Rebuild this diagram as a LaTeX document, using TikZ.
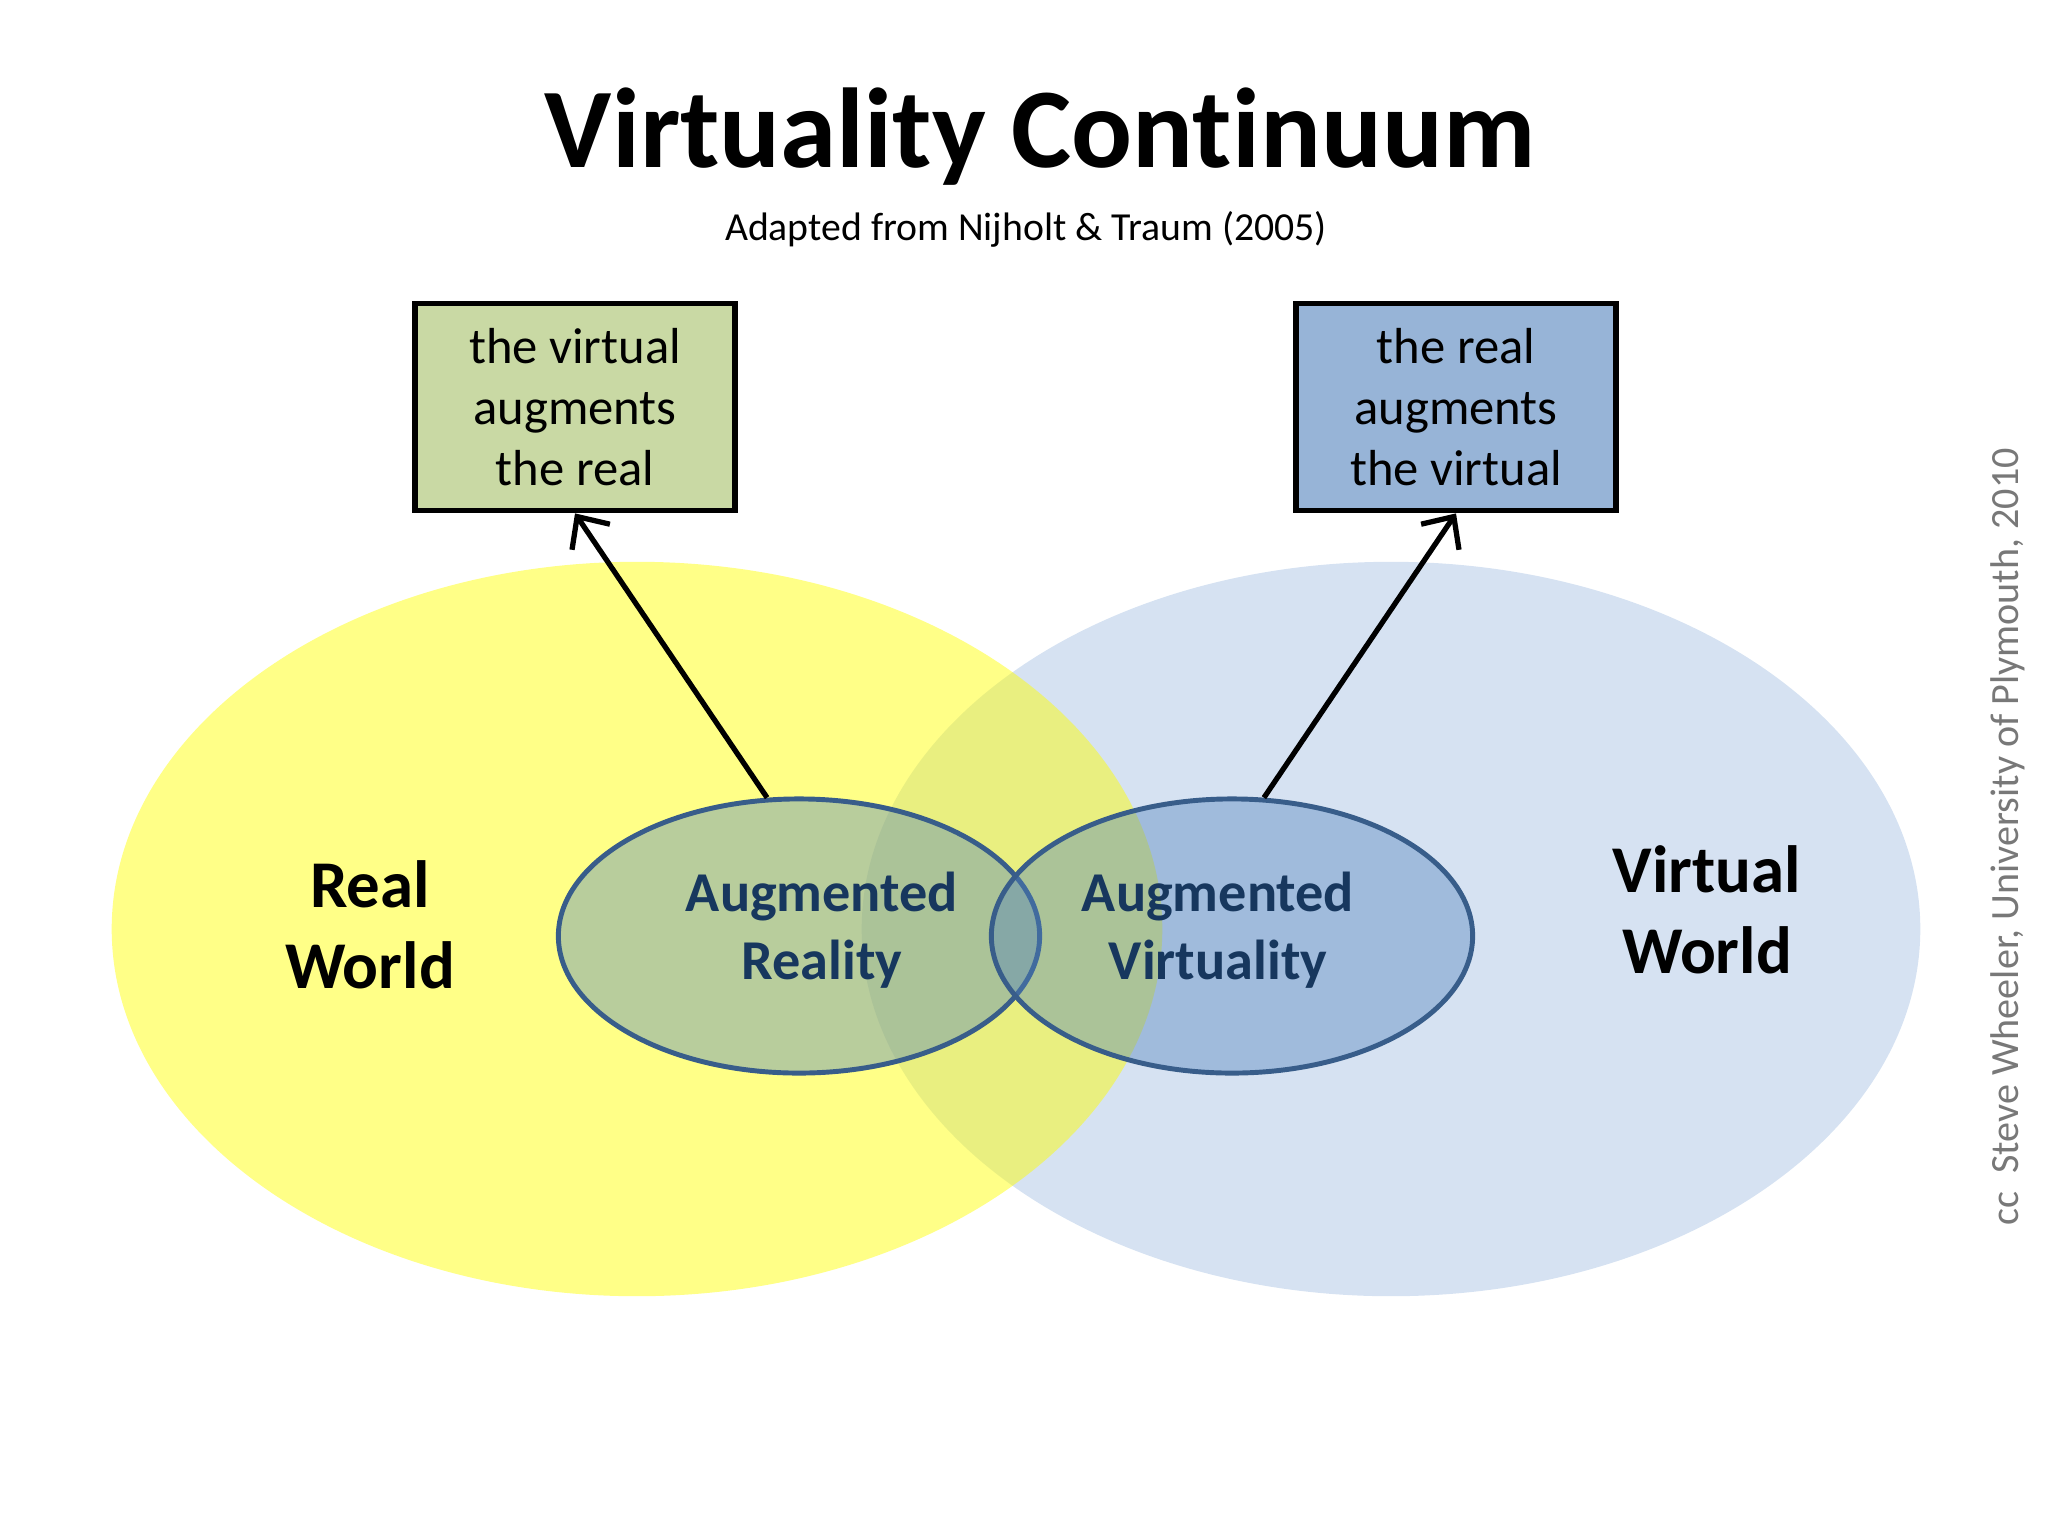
\documentclass[tikz,border=0pt]{standalone}
\usepackage{fontspec}
\setmainfont[Ligatures=NoCommon]{Carlito}
\usetikzlibrary{positioning,shapes.geometric,arrows.meta}

\definecolor{realyellow}{RGB}{255,255,0}
\definecolor{virtblue}{RGB}{214,226,242}
\definecolor{augfill}{RGB}{79,129,189}
\definecolor{augline}{RGB}{56,93,138}
\definecolor{augtext}{RGB}{23,55,94}
\definecolor{greenbox}{RGB}{201,217,164}
\definecolor{bluebox}{RGB}{151,180,215}
\definecolor{creditgray}{RGB}{120,120,120}

\begin{document}
\begin{tikzpicture}[x=0.01cm, y=-0.01cm, >={Straight Barb[length=7pt,width=13pt]},
    world/.style={ellipse, inner sep=0pt, minimum width=10.5cm, minimum height=7.34cm},
    aug/.style={ellipse, draw=augline, line width=1.4pt, fill=augfill, fill opacity=0.4,
        inner sep=0pt, minimum width=4.81cm, minimum height=2.74cm},
    augword/.style={align=center, text=augtext, font=\fontsize{16}{19.3}\selectfont\bfseries},
    worldword/.style={align=center, font=\fontsize{19}{23}\selectfont\bfseries},
    notebox/.style={draw, rectangle, line width=1.6pt, align=center, inner sep=0pt,
        minimum width=3.2cm, minimum height=2.07cm, font=\fontsize{14.4}{17.4}\selectfont}]
        \useasboundingbox (0,0) rectangle (2048,1536);

        % Titles
        \node (title) [anchor=base, font=\fontsize{32.3}{38}\selectfont\bfseries] at (1040,167) {Virtuality Continuum};
        \node (source) [anchor=base, font=\fontsize{11.3}{13}\selectfont] at (1026,240) {Adapted from Nijholt \& Traum (2005)};

        % Worlds
        \node (virtual) [world, fill=virtblue, minimum width=10.58cm] at (1391,929) {};
        \node (real) [world, fill=realyellow, fill opacity=0.47] at (637,929) {};
        \node (ar) [aug] at (799,936) {};
        \node (av) [aug] at (1232,936) {};

        % Labels
        \node (realtext) [worldword] at (370,925) {Real\\World};
        \node (virttext) [worldword] at (1707,910) {Virtual\\World};
        \node (artext) [augword] at (822,930) {Augmented\\Reality};
        \node (avtext) [augword] at (1218,930) {Augmented\\Virtuality};

        % Boxes
        \node (vbox) [notebox, fill=greenbox] at (575,407) {the virtual\\augments\\the real};
        \node (rbox) [notebox, fill=bluebox] at (1456,407) {the real\\augments\\the virtual};

        % Arrows
        \draw[->, line width=1.5pt] (ar.103) -- (vbox.south);
        \draw[->, line width=1.5pt] (av.77) -- (rbox.south);

        % Credit
        \node (credit) [anchor=base, rotate=90, text=creditgray, font=\fontsize{11.4}{13}\selectfont] at (2018,837) {cc\ \ Steve Wheeler, University of Plymouth, 2010};
    \end{tikzpicture}
\end{document}
